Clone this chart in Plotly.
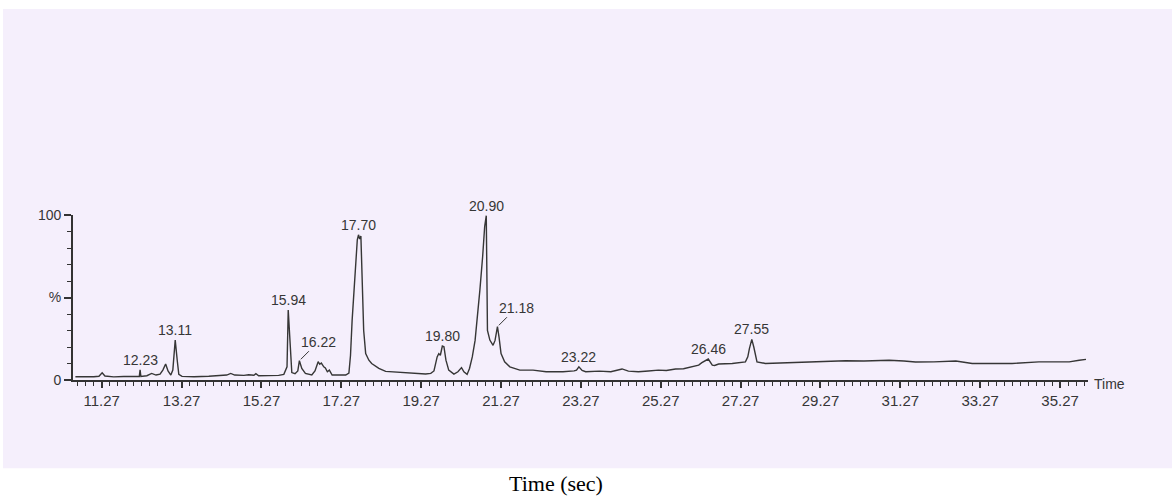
import plotly.graph_objects as go

# ---- data (time, % intensity) ----
time = [10.61, 10.82, 11.07, 11.20, 11.28, 11.35, 11.57, 11.82, 12.07, 12.21, 12.23, 12.25,
        12.40, 12.52, 12.63, 12.73, 12.80, 12.87, 12.93, 13.00, 13.05, 13.11, 13.16, 13.20,
        13.28, 13.58, 13.95, 14.20, 14.40, 14.50, 14.60, 14.83, 14.95, 15.08, 15.13, 15.20,
        15.45, 15.70, 15.83, 15.91, 15.94, 16.00, 16.03, 16.11, 16.18, 16.22, 16.28, 16.37,
        16.53, 16.61, 16.69, 16.73, 16.77, 16.83, 16.87, 16.92, 16.97, 17.04, 17.21, 17.38,
        17.46, 17.50, 17.54, 17.61, 17.67, 17.70, 17.73, 17.76, 17.79, 17.83, 17.88, 17.91,
        17.96, 18.03, 18.13, 18.21, 18.38, 18.59, 18.88, 19.11, 19.38, 19.51, 19.59, 19.67,
        19.71, 19.75, 19.80, 19.84, 19.89, 19.96, 20.09, 20.19, 20.28, 20.34, 20.42, 20.48,
        20.55, 20.62, 20.67, 20.74, 20.81, 20.86, 20.90, 20.91, 20.93, 20.99, 21.07, 21.12,
        21.18, 21.22, 21.27, 21.36, 21.49, 21.74, 22.07, 22.40, 22.82, 23.10, 23.16, 23.22,
        23.30, 23.39, 23.73, 24.02, 24.30, 24.46, 24.71, 24.96, 25.21, 25.41, 25.64, 25.84,
        26.05, 26.22, 26.30, 26.46, 26.56, 26.62, 26.72, 27.06, 27.39, 27.45, 27.49, 27.55,
        27.60, 27.65, 27.68, 27.89, 28.23, 28.56, 28.98, 29.40, 29.90, 30.36, 30.99, 31.36,
        31.65, 32.11, 32.66, 33.07, 33.57, 34.07, 34.74, 35.50, 35.75, 35.92]
intensity = [2.0, 1.8, 2.0, 2.3, 4.4, 2.4, 1.9, 2.1, 2.0, 2.1, 6.1, 2.2,
             2.6, 4.0, 3.0, 3.5, 6.0, 9.7, 5.5, 3.0, 6.0, 24.2, 12.0, 3.5,
             2.2, 2.0, 2.3, 2.5, 3.0, 4.0, 3.0, 2.8, 3.2, 2.9, 3.8, 2.6,
             2.5, 2.8, 3.4, 8.0, 42.4, 14.0, 4.5, 3.8, 5.5, 11.7, 7.0, 4.0,
             3.0, 5.5, 11.1, 9.5, 10.3, 8.0, 7.3, 5.0, 6.0, 3.0, 2.9, 3.0,
             4.2, 15.0, 36.0, 66.0, 85.0, 88.0, 85.5, 87.3, 66.0, 30.0, 16.0, 14.5,
             12.0, 10.0, 8.1, 7.0, 5.2, 4.8, 4.2, 3.8, 3.6, 4.0, 5.5, 14.0,
             16.0, 15.0, 20.6, 20.2, 12.0, 6.0, 3.6, 5.0, 7.5, 5.0, 3.4, 7.0,
             14.0, 24.0, 35.0, 54.5, 75.0, 93.0, 99.6, 80.0, 30.0, 24.2, 21.0, 24.0,
             32.3, 26.0, 16.0, 11.0, 8.0, 6.0, 6.0, 5.0, 5.0, 5.5, 6.0, 8.0,
             5.8, 5.0, 5.4, 5.0, 6.7, 5.4, 5.0, 5.5, 6.0, 5.8, 6.7, 6.8,
             7.8, 9.0, 10.5, 12.7, 9.0, 8.8, 9.7, 10.0, 11.0, 14.0, 19.0, 24.6,
             20.0, 14.0, 11.0, 10.0, 10.3, 10.9, 11.2, 11.7, 11.7, 11.5, 12.0, 11.5,
             10.9, 11.0, 11.5, 10.0, 10.0, 10.0, 11.0, 11.0, 12.0, 12.5]

peak_labels = ["12.23", "13.11", "15.94", "17.70", "19.80", "20.90", "23.22", "26.46", "27.55"]
peak_times = [12.23, 13.11, 15.94, 17.70, 19.80, 20.90, 23.22, 26.46, 27.55]
peak_heights = [6.1, 24.2, 42.4, 88.0, 20.6, 99.6, 8.0, 12.7, 24.6]

leader_labels = ["16.22", "21.18"]
leader_times = [16.22, 21.18]
leader_heights = [11.7, 32.3]

x_ticks = [11.27, 13.27, 15.27, 17.27, 19.27, 21.27, 23.27, 25.27, 27.27, 29.27, 31.27, 33.27, 35.27]
y_ticks = [0, 50, 100]
y_tick_text = ["0", "%", "100"]

# ---- figure ----
LAV = "#F5EFFC"
INK = "#363636"
SANS = "Liberation Sans, Arial, sans-serif"

fig = go.Figure()
fig.add_trace(go.Scatter(x=time, y=intensity, mode="lines",
                         line=dict(color=INK, width=1.4), cliponaxis=False,
                         hoverinfo="x+y", showlegend=False))

annotations = []
for lab, t, h in zip(peak_labels, peak_times, peak_heights):
    annotations.append(dict(x=t, y=h, xref="x", yref="y", text=lab, showarrow=False,
                            yanchor="bottom", xanchor="center", yshift=0,
                            font=dict(family=SANS, size=14, color=INK)))
for lab, t, h in zip(leader_labels, leader_times, leader_heights):
    annotations.append(dict(x=t, y=h, xref="x", yref="y", text=lab, showarrow=True,
                            arrowhead=0, arrowwidth=1, arrowcolor=INK, ax=19, ay=-19,
                            standoff=2,
                            font=dict(family=SANS, size=14, color=INK)))
annotations.append(dict(x=1.004, y=-0.025, xref="paper", yref="paper", text="Time",
                        showarrow=False, xanchor="left", yanchor="middle",
                        font=dict(family=SANS, size=14, color=INK)))
annotations.append(dict(x=0.476, y=-0.627, xref="paper", yref="paper", text="Time (sec)",
                        showarrow=False, xanchor="center", yanchor="middle",
                        font=dict(family="Liberation Serif, Times New Roman, serif", size=22, color="#000000")))

fig.update_layout(
    width=1172, height=497,
    margin=dict(l=73, r=84, t=215, b=117, pad=0),
    paper_bgcolor="#FFFFFF", plot_bgcolor=LAV,
    showlegend=False,
    annotations=annotations,
    shapes=[dict(type="rect", xref="paper", yref="paper", x0=-0.069, x1=1.083,
                 y0=-0.535, y1=2.248, fillcolor=LAV, line=dict(width=0), layer="below")],
    xaxis=dict(range=[10.55, 35.97], tickmode="array", tickvals=x_ticks,
               ticktext=[f"{v:.2f}" for v in x_ticks],
               showgrid=False, zeroline=False, showline=True, linecolor="#333333", linewidth=1.8,
               ticks="outside", ticklen=6, tickwidth=1.5, tickcolor="#333333",
               tickfont=dict(family=SANS, size=15, color=INK),
               minor=dict(tickmode="linear", tick0=11.27, dtick=0.2, ticks="outside",
                          ticklen=4, tickwidth=1.1, tickcolor="#333333", showgrid=False)),
    yaxis=dict(range=[0, 100], tickmode="array", tickvals=y_ticks, ticktext=y_tick_text,
               showgrid=False, zeroline=False, showline=True, linecolor="#333333", linewidth=1.8,
               ticks="outside", ticklen=7, tickwidth=1.5, tickcolor="#333333",
               tickfont=dict(family=SANS, size=14, color=INK),
               minor=dict(tickmode="linear", tick0=0, dtick=10, ticks="outside",
                          ticklen=4, tickwidth=1.1, tickcolor="#333333", showgrid=False)),
)

fig.write_html("out.html", config={"displayModeBar": False},
               post_script="document.body.style.margin='0';document.body.style.overflow='hidden';")
